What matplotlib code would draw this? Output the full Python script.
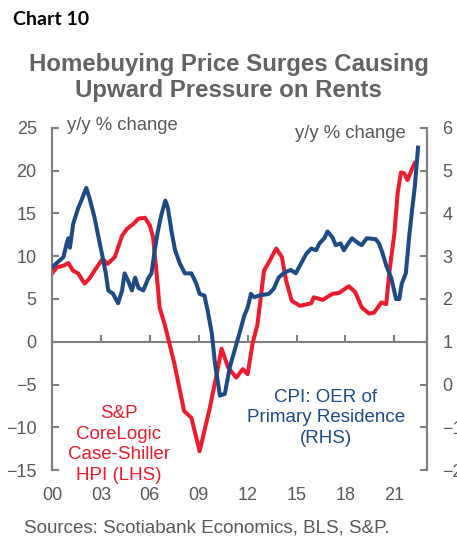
import matplotlib
matplotlib.use("Agg")
import matplotlib.pyplot as plt
import numpy as np

plt.rcParams['font.family'] = ['Liberation Sans', 'DejaVu Sans']

# S&P CoreLogic Case-Shiller HPI, y/y % (LHS)
hpi_t = [2000.0, 2000.3, 2000.7, 2001.0, 2001.3, 2001.6, 2002.0, 2002.3, 2002.6, 2003.1,
         2003.4, 2003.85, 2004.3, 2004.6, 2005.0, 2005.3, 2005.7, 2006.0, 2006.2, 2006.4,
         2006.6, 2006.9, 2007.2, 2007.5, 2008.1, 2008.55, 2009.05, 2009.66, 2010.1, 2010.4,
         2010.8, 2011.3, 2011.7, 2012.0, 2012.3, 2012.6, 2013.0, 2013.3, 2013.75, 2014.1,
         2014.35, 2014.7, 2015.2, 2015.9, 2016.05, 2016.6, 2017.2, 2017.6, 2018.2, 2018.6,
         2019.0, 2019.45, 2019.75, 2020.2, 2020.5, 2020.7, 2021.0, 2021.2, 2021.4, 2021.6,
         2021.8, 2022.1, 2022.25]
hpi_v = [8.0, 8.7, 8.9, 9.2, 8.3, 8.0, 6.8, 7.4, 8.3, 9.7,
         9.1, 9.9, 12.4, 13.2, 13.8, 14.4, 14.5, 13.6, 12.2, 8.3,
         4.0, 2.1, -0.2, -2.5, -8.1, -8.9, -12.8, -7.9, -3.8, -0.8,
         -3.0, -4.2, -3.2, -3.8, -0.2, 2.0, 8.3, 9.3, 10.9, 9.9,
         7.2, 4.8, 4.2, 4.5, 5.2, 4.9, 5.6, 5.7, 6.5, 5.8,
         4.0, 3.3, 3.4, 4.6, 4.4, 8.3, 12.7, 17.4, 19.8, 19.7,
         18.9, 20.3, 20.9]

# CPI: owners' equivalent rent of primary residence, y/y % (RHS)
oer_t = [2000.0, 2000.35, 2000.7, 2000.9, 2001.0, 2001.1, 2001.3, 2001.6, 2001.8, 2002.1,
         2002.3, 2002.6, 2002.8, 2003.05, 2003.3, 2003.45, 2003.75, 2004.05, 2004.3, 2004.45,
         2004.65, 2004.9, 2005.1, 2005.3, 2005.6, 2005.9, 2006.1, 2006.3, 2006.5, 2006.7,
         2006.95, 2007.1, 2007.35, 2007.55, 2007.85, 2008.15, 2008.55, 2008.85, 2009.05, 2009.35,
         2009.55, 2009.8, 2010.0, 2010.3, 2010.6, 2010.9, 2011.2, 2011.5, 2011.8, 2012.0,
         2012.2, 2012.4, 2012.7, 2013.3, 2013.6, 2013.9, 2014.25, 2014.65, 2014.95, 2015.2,
         2015.6, 2015.9, 2016.2, 2016.4, 2016.7, 2016.9, 2017.2, 2017.4, 2017.7, 2017.9,
         2018.2, 2018.4, 2018.8, 2019.0, 2019.3, 2019.85, 2020.05, 2020.25, 2020.5, 2020.8,
         2021.1, 2021.3, 2021.45, 2021.7, 2021.9, 2022.1, 2022.25, 2022.45]
oer_v = [2.74, 2.86, 2.98, 3.3, 3.42, 3.2, 3.76, 4.12, 4.3, 4.6,
         4.36, 3.92, 3.54, 3.08, 2.6, 2.2, 2.12, 1.9, 2.2, 2.6,
         2.44, 2.2, 2.5, 2.26, 2.2, 2.48, 2.6, 3.14, 3.6, 3.96,
         4.3, 4.14, 3.54, 3.14, 2.82, 2.6, 2.6, 2.36, 2.12, 2.08,
         1.72, 1.2, 0.48, -0.26, -0.22, 0.4, 0.8, 1.2, 1.62, 1.8,
         2.12, 2.04, 2.08, 2.12, 2.24, 2.5, 2.62, 2.68, 2.6, 2.78,
         3.06, 3.18, 3.14, 3.3, 3.42, 3.58, 3.44, 3.26, 3.3, 3.14,
         3.32, 3.42, 3.3, 3.26, 3.42, 3.4, 3.3, 3.1, 2.78, 2.5,
         2.0, 2.0, 2.36, 2.6, 3.44, 4.14, 4.62, 5.54]

xticks = [2000, 2003, 2006, 2009, 2012, 2015, 2018, 2021]
xlabels = ['00', '03', '06', '09', '12', '15', '18', '21']

RED = '#EC1C2E'
BLUE = '#1E4A86'
GREY = '#595959'
AXC = '#808080'

fig = plt.figure(figsize=(4.57, 5.40), dpi=100)
ax = fig.add_axes([0.1138, 0.1296, 0.8206, 0.6334])
ax2 = ax.twinx()

ax.plot(hpi_t, hpi_v, color=RED, lw=2.9, solid_joinstyle='round', zorder=3)
ax2.plot(oer_t, oer_v, color=BLUE, lw=2.9, solid_joinstyle='round', zorder=3)

ax.set_xlim(2000, 2023)
ax.set_ylim(-15, 25)
ax2.set_ylim(-2, 6)
ax.set_yticks(np.arange(-15, 26, 5))
ax2.set_yticks(np.arange(-2, 7, 1))

for a in (ax, ax2):
    a.patch.set_visible(False)
    a.spines['top'].set_visible(False)
    for s in ('left', 'right', 'bottom'):
        a.spines[s].set_color(AXC)
        a.spines[s].set_linewidth(1.5)
    a.tick_params(axis='y', direction='in', length=5, width=1.5, color=AXC,
                  labelsize=13, labelcolor=GREY, pad=11)
ax2.spines['bottom'].set_visible(False)
ax.spines['bottom'].set_position(('data', 0))
ax.set_xticks(xticks)
ax.tick_params(axis='x', direction='in', length=5, width=1.5, color=AXC,
               labelbottom=False)

sec = ax.secondary_xaxis('bottom')
sec.set_xticks(xticks, xlabels)
sec.spines['bottom'].set_visible(False)
sec.tick_params(axis='x', length=0, pad=12, labelsize=13, labelcolor=GREY)

ax.text(0.04, 1.006, 'y/y % change', transform=ax.transAxes, fontsize=13.3,
        color=GREY, ha='left', va='center')
ax.text(0.944, 0.985, 'y/y % change', transform=ax.transAxes, fontsize=13.3,
        color=GREY, ha='right', va='center')

ax.text(2004.1, -12.0, 'S&P\nCoreLogic\nCase-Shiller\nHPI (LHS)', color=RED,
        fontsize=13.5, ha='center', va='center', linespacing=1.27)
ax2.text(2016.8, -0.78, 'CPI: OER of\nPrimary Residence\n(RHS)', color=BLUE,
         fontsize=13.5, ha='center', va='center', linespacing=1.29)

fig.text(0.028, 0.963, 'Chart 10', fontsize=14, fontweight='bold',
         family=['Lato', 'DejaVu Sans'], color='black', ha='left', va='center')
fig.text(0.5, 0.857, 'Homebuying Price Surges Causing\nUpward Pressure on Rents',
         fontsize=17.3, fontweight='bold', color='#636363', ha='center', va='center',
         linespacing=1.15)
fig.text(0.052, 0.022, 'Sources: Scotiabank Economics, BLS, S&P.', fontsize=13.5,
         color=GREY, ha='left', va='center')

fig.savefig('out.png', dpi=100)
